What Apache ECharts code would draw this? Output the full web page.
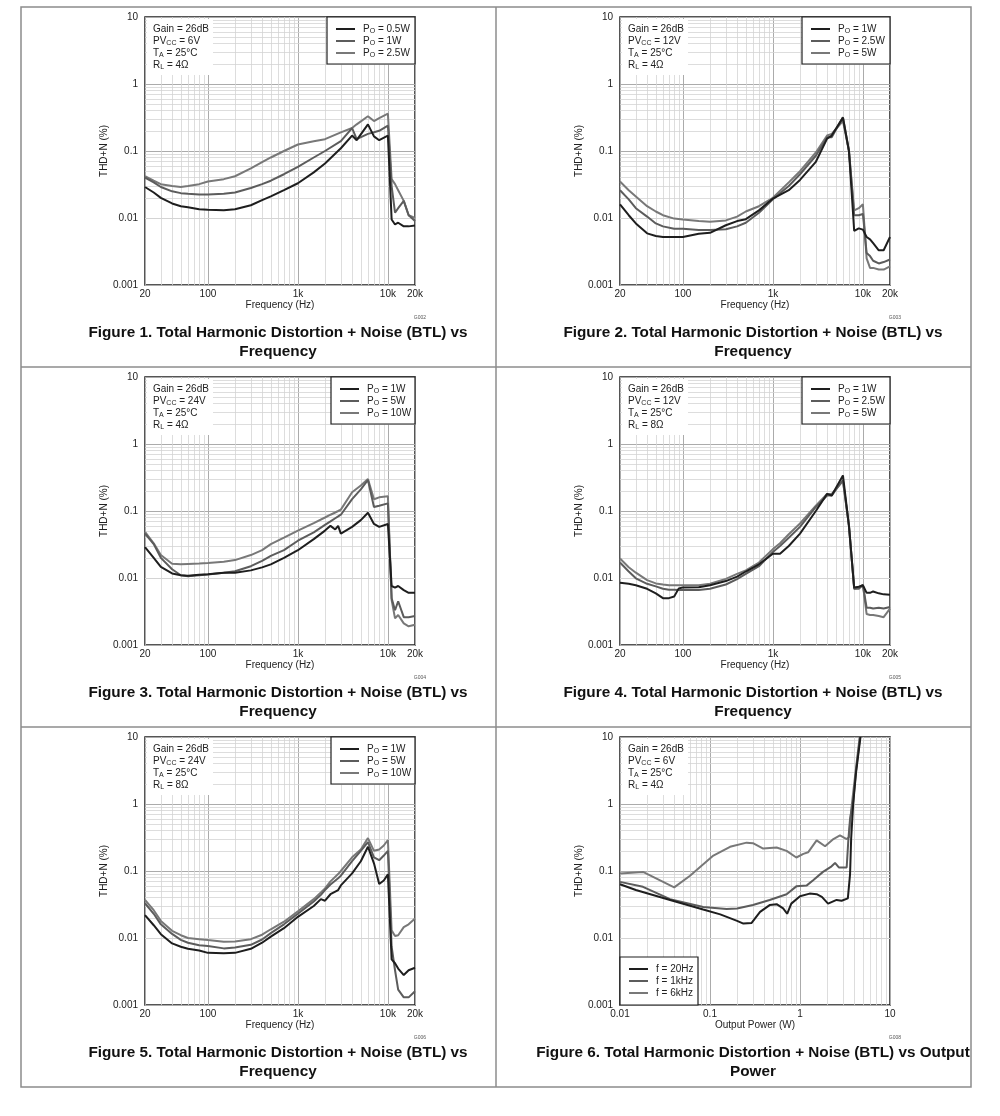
<!DOCTYPE html>
<html><head><meta charset="utf-8">
<script src="https://cdn.jsdelivr.net/npm/echarts@6/dist/echarts.min.js"></script>
<style>html,body{margin:0;padding:0;background:#fff}#c{width:1000px;height:1116px}</style>
</head><body><div id="c"></div>
<script>
// ---------- DATA ----------
// Figure 1: PVcc = 6V, RL = 4 ohm
const freq1 = [20,25,30,40,50,60,80,100,150,200,300,400,500,700,1000,1500,2000,3000,4000,4500,6000,7000,8000,10000,11000,12000,13000,15000,17000,20000];
const fig1_05W = [0.029,0.024,0.020,0.0165,0.015,0.0145,0.0135,0.0133,0.013,0.0135,0.0155,0.0185,0.021,0.026,0.033,0.048,0.065,0.11,0.17,0.145,0.25,0.165,0.145,0.17,0.0095,0.008,0.0085,0.0075,0.0075,0.0077];
const fig1_1W  = [0.040,0.034,0.029,0.025,0.0235,0.023,0.0225,0.0225,0.023,0.024,0.028,0.032,0.036,0.045,0.058,0.08,0.1,0.14,0.22,0.15,0.18,0.19,0.2,0.24,0.03,0.012,0.014,0.018,0.011,0.009];
const fig1_25W = [0.042,0.036,0.032,0.030,0.029,0.030,0.032,0.035,0.038,0.042,0.055,0.068,0.08,0.10,0.125,0.14,0.15,0.19,0.22,0.25,0.33,0.28,0.31,0.36,0.038,0.032,0.026,0.018,0.011,0.010];

// Figure 2: PVcc = 12V, RL = 4 ohm
const freq2 = [20,25,30,40,50,60,80,100,150,200,300,400,500,700,1000,1500,2000,3000,4000,4500,6000,7000,8000,9000,10000,11000,12000,13000,15000,17000,20000];
const fig2_1W  = [0.016,0.011,0.0083,0.0059,0.0054,0.0052,0.0052,0.0052,0.0058,0.006,0.0078,0.009,0.0096,0.013,0.0195,0.026,0.037,0.069,0.153,0.17,0.315,0.1,0.0064,0.007,0.0067,0.0052,0.0048,0.0042,0.0033,0.0033,0.0052];
const fig2_25W = [0.026,0.019,0.014,0.0105,0.0083,0.0075,0.0069,0.0069,0.0066,0.0066,0.0068,0.0075,0.0085,0.012,0.019,0.03,0.045,0.085,0.16,0.16,0.32,0.1,0.011,0.011,0.0115,0.003,0.0027,0.0023,0.0021,0.0022,0.0024];
const fig2_5W  = [0.035,0.026,0.021,0.015,0.0125,0.011,0.0098,0.0095,0.009,0.0088,0.0092,0.0105,0.0125,0.015,0.02,0.034,0.05,0.095,0.17,0.18,0.28,0.1,0.013,0.014,0.016,0.0025,0.0018,0.0018,0.0017,0.0017,0.0019];

// Figure 3: PVcc = 24V, RL = 4 ohm
const freq3 = [20,25,30,40,50,60,80,100,150,200,300,400,500,700,1000,1500,2000,2300,2600,2800,3000,4000,5000,6000,7000,8000,10000,11000,12000,13000,15000,17000,20000];
const fig3_1W  = [0.029,0.02,0.0146,0.0117,0.011,0.0108,0.0112,0.0114,0.012,0.012,0.013,0.0144,0.016,0.02,0.026,0.038,0.051,0.06,0.053,0.06,0.046,0.058,0.073,0.094,0.064,0.058,0.064,0.0076,0.0072,0.0076,0.0066,0.006,0.006];
const fig3_5W  = [0.046,0.032,0.02,0.0135,0.011,0.0106,0.011,0.0113,0.012,0.0126,0.015,0.018,0.0214,0.026,0.036,0.048,0.062,0.07,0.078,0.083,0.088,0.15,0.21,0.29,0.115,0.12,0.13,0.005,0.0033,0.0045,0.0026,0.0026,0.0027];
const fig3_10W = [0.049,0.033,0.022,0.0163,0.016,0.0162,0.0165,0.0168,0.0175,0.0185,0.022,0.026,0.032,0.04,0.051,0.066,0.08,0.088,0.095,0.1,0.105,0.19,0.24,0.3,0.15,0.16,0.166,0.0047,0.0025,0.0028,0.0021,0.0019,0.002];

// Figure 4: PVcc = 12V, RL = 8 ohm
const freq4 = [20,25,30,40,50,60,70,80,90,100,150,200,300,400,500,700,1000,1200,1500,2000,3000,4000,4500,6000,7000,8000,9000,10000,11000,12000,13000,15000,17000,20000];
const fig4_1W  = [0.0085,0.0082,0.0078,0.0069,0.0059,0.005,0.005,0.0053,0.007,0.0072,0.0073,0.0078,0.009,0.0105,0.0125,0.016,0.023,0.023,0.03,0.046,0.1,0.18,0.17,0.34,0.06,0.0072,0.0074,0.0078,0.006,0.006,0.0063,0.0059,0.0057,0.0056];
const fig4_25W = [0.017,0.0125,0.0099,0.0082,0.0075,0.0069,0.0067,0.0067,0.0066,0.0066,0.0066,0.0069,0.008,0.0096,0.0115,0.015,0.0245,0.03,0.04,0.058,0.115,0.17,0.17,0.29,0.06,0.0069,0.0069,0.0078,0.0036,0.0036,0.0035,0.0036,0.0035,0.0037];
const fig4_5W  = [0.0195,0.0145,0.012,0.0093,0.0083,0.008,0.0078,0.0078,0.0078,0.0078,0.0078,0.0082,0.0097,0.0115,0.013,0.017,0.027,0.033,0.045,0.065,0.12,0.18,0.18,0.28,0.06,0.0069,0.0072,0.0079,0.0029,0.0028,0.0028,0.0027,0.0026,0.0035];

// Figure 5: PVcc = 24V, RL = 8 ohm
const freq5 = [20,25,30,40,50,60,80,100,150,200,300,400,500,700,1000,1500,1800,2000,2300,2800,3000,4000,5000,6000,7000,8000,9000,10000,11000,12000,13000,15000,17000,20000];
const fig5_1W  = [0.022,0.0155,0.0114,0.0083,0.0074,0.0069,0.0065,0.006,0.0059,0.006,0.0069,0.0085,0.0105,0.014,0.0207,0.03,0.038,0.036,0.045,0.052,0.061,0.092,0.14,0.23,0.13,0.064,0.072,0.089,0.0048,0.0042,0.0035,0.0028,0.0033,0.0036];
const fig5_5W  = [0.033,0.023,0.016,0.0115,0.0094,0.0085,0.0078,0.0076,0.007,0.0072,0.0079,0.0095,0.0118,0.016,0.023,0.035,0.044,0.052,0.063,0.078,0.085,0.14,0.2,0.27,0.16,0.145,0.17,0.2,0.0074,0.0033,0.0017,0.0013,0.0013,0.0016];
const fig5_10W = [0.037,0.026,0.018,0.0128,0.011,0.01,0.0096,0.0093,0.0088,0.0089,0.0096,0.0112,0.0135,0.0175,0.025,0.038,0.048,0.055,0.07,0.09,0.1,0.16,0.21,0.31,0.2,0.21,0.24,0.29,0.013,0.0107,0.011,0.0145,0.016,0.0195];

// Figure 6: THD+N vs output power
const pow20Hz = [0.01,0.015,0.036,0.084,0.13,0.2,0.235,0.29,0.36,0.46,0.55,0.65,0.72,0.8,1.0,1.28,1.53,1.75,2.05,2.55,2.9,3.4,3.5,3.6,3.7,3.9,4.2,4.7];
const thd20Hz = [0.0635,0.052,0.037,0.0266,0.0225,0.018,0.0164,0.0168,0.0245,0.031,0.032,0.0276,0.023,0.0326,0.042,0.046,0.045,0.041,0.0326,0.037,0.036,0.039,0.04,0.09,0.3,1.0,3,10];
const pow1kHz = [0.01,0.018,0.036,0.084,0.153,0.2,0.3,0.46,0.71,0.91,1.19,1.4,1.8,2.2,2.45,2.7,3.3,3.45,3.6,3.9,4.2,4.65];
const thd1kHz = [0.0688,0.058,0.038,0.029,0.027,0.0275,0.031,0.037,0.045,0.059,0.061,0.073,0.097,0.115,0.132,0.113,0.113,0.3,0.6,1.1,3.2,10];
const pow6kHz = [0.01,0.018,0.04,0.06,0.109,0.167,0.255,0.3,0.39,0.55,0.71,0.91,1.09,1.23,1.53,1.9,2.35,2.78,3.3,3.5,3.7,4.0,4.6];
const thd6kHz = [0.092,0.097,0.057,0.085,0.17,0.23,0.265,0.26,0.216,0.224,0.2,0.159,0.18,0.19,0.287,0.234,0.3,0.34,0.3,0.32,0.8,2,10];

// Tick labels
const yTickValues = [0.001,0.01,0.1,1,10];
const yTickLabels = ['0.001','0.01','0.1','1','10'];
const freqTickValues = [20,100,1000,10000,20000];
const freqTickLabels = ['20','100','1k','10k','20k'];
const powTickValues = [0.01,0.1,1,10];
const powTickLabels = ['0.01','0.1','1','10'];
const minorMultipliers = [2,3,4,5,6,7,8,9];

// ---------- CHART DEFINITIONS ----------
const FONT = '"Liberation Sans", Arial, sans-serif';
const colors = ['#1e1e1e', '#5c5c5c', '#787878'];
const PW = 270, PH = 268;
const charts = [
  {left:145, top:17, kind:'freq', vcc:'6V', rl:'4Ω', code:'G002', caption:['Figure 1. Total Harmonic Distortion + Noise (BTL) vs','Frequency'],
   legend:['P{s|O} = 0.5W','P{s|O} = 1W','P{s|O} = 2.5W'], legendBox:182, x:[freq1,freq1,freq1], y:[fig1_05W,fig1_1W,fig1_25W]},
  {left:620, top:17, kind:'freq', vcc:'12V', rl:'4Ω', code:'G003', caption:['Figure 2. Total Harmonic Distortion + Noise (BTL) vs','Frequency'],
   legend:['P{s|O} = 1W','P{s|O} = 2.5W','P{s|O} = 5W'], legendBox:182, x:[freq2,freq2,freq2], y:[fig2_1W,fig2_25W,fig2_5W]},
  {left:145, top:377, kind:'freq', vcc:'24V', rl:'4Ω', code:'G004', caption:['Figure 3. Total Harmonic Distortion + Noise (BTL) vs','Frequency'],
   legend:['P{s|O} = 1W','P{s|O} = 5W','P{s|O} = 10W'], legendBox:186, x:[freq3,freq3,freq3], y:[fig3_1W,fig3_5W,fig3_10W]},
  {left:620, top:377, kind:'freq', vcc:'12V', rl:'8Ω', code:'G005', caption:['Figure 4. Total Harmonic Distortion + Noise (BTL) vs','Frequency'],
   legend:['P{s|O} = 1W','P{s|O} = 2.5W','P{s|O} = 5W'], legendBox:182, x:[freq4,freq4,freq4], y:[fig4_1W,fig4_25W,fig4_5W]},
  {left:145, top:737, kind:'freq', vcc:'24V', rl:'8Ω', code:'G006', caption:['Figure 5. Total Harmonic Distortion + Noise (BTL) vs','Frequency'],
   legend:['P{s|O} = 1W','P{s|O} = 5W','P{s|O} = 10W'], legendBox:186, x:[freq5,freq5,freq5], y:[fig5_1W,fig5_5W,fig5_10W]},
  {left:620, top:737, kind:'power', vcc:'6V', rl:'4Ω', code:'G008', caption:['Figure 6. Total Harmonic Distortion + Noise (BTL) vs Output','Power'],
   legend:['f = 20Hz','f = 1kHz','f = 6kHz'], legendBox:null, x:[pow20Hz,pow1kHz,pow6kHz], y:[thd20Hz,thd1kHz,thd6kHz]}
];

function minorValues(decades){ const out=[]; decades.forEach(d=>minorMultipliers.forEach(m=>out.push(+(m*d).toPrecision(3)))); return out; }
function labelFrom(values, labels){ return v => { const i = values.findIndex(t => Math.abs(t - v) / t < 1e-6); return i >= 0 ? labels[i] : ''; }; }

const option = {animation:false, grid:[], xAxis:[], yAxis:[], series:[], legend:[], graphic:[]};
const gfx = option.graphic;
const subRich = {s:{fontSize:7, fontFamily:FONT, verticalAlign:'bottom', lineHeight:12, padding:[3,0,0,0]}};

charts.forEach((c, i) => {
  option.grid.push({left:c.left, top:c.top, width:PW, height:PH, show:true, borderColor:'#1e1e1e', borderWidth:1.5, backgroundColor:'rgba(0,0,0,0)', containLabel:false});
  const isF = c.kind === 'freq';
  option.xAxis.push({
    type:'log', logBase:10, gridIndex:i, min:isF?20:0.01, max:isF?20000:10,
    axisLine:{show:false}, axisTick:{show:false},
    splitLine:{show:true, lineStyle:{color:'#ababab', width:1}},
    axisLabel:{fontSize:10, color:'#222', fontFamily:FONT, margin:4, showMinLabel:true, showMaxLabel:true,
      formatter: isF ? labelFrom(freqTickValues, freqTickLabels) : labelFrom(powTickValues, powTickLabels)},
    name: isF ? 'Frequency (Hz)' : 'Output Power (W)', nameLocation:'middle', nameGap:15,
    nameTextStyle:{fontSize:10, color:'#222', fontFamily:FONT}
  });
  option.yAxis.push({
    type:'log', logBase:10, gridIndex:i, min:0.001, max:10,
    axisLine:{show:false}, axisTick:{show:false},
    splitLine:{show:true, lineStyle:{color:'#ababab', width:1}},
    axisLabel:{fontSize:10, color:'#222', fontFamily:FONT, margin:7, showMinLabel:true, showMaxLabel:true,
      formatter: labelFrom(yTickValues, yTickLabels)},
    name:'THD+N (%)', nameLocation:'middle', nameGap:36,
    nameTextStyle:{fontSize:10, color:'#222', fontFamily:FONT}
  });
  const xMinor = isF ? minorValues([10,100,1000]).filter(v => v > 20) : minorValues([0.01,0.1,1]);
  const yMinor = minorValues([0.001,0.01,0.1,1]);
  const names = [];
  [2,1,0].forEach(j => {
    const nm = 'c' + i + 's' + j;
    const s = {
      type:'line', name:nm, xAxisIndex:i, yAxisIndex:i, symbol:'none', showSymbol:false,
      data: c.x[j].map((xv, k) => [xv, c.y[j][k]]),
      lineStyle:{color:colors[j], width:2}, itemStyle:{color:colors[j]}, z:2 + (2 - j) * 0.1
    };
    if (j === 2) {
      s.markLine = {silent:true, symbol:'none', z:1, animation:false, label:{show:false},
        lineStyle:{color:'#d4d4d4', width:0.8, type:'solid'},
        emphasis:{disabled:true},
        data: xMinor.map(v => ({xAxis:v})).concat(yMinor.map(v => ({yAxis:v})))};
    }
    option.series.push(s);
  });
  for (let j = 0; j < 3; j++) names.push('c' + i + 's' + j);
  const labels = {}; names.forEach((n, j) => labels[n] = c.legend[j]);

  // annotation background + text
  gfx.push({type:'rect', z:3, silent:true, shape:{x:c.left+2, y:c.top+2, width:66, height:56}, style:{fill:'#fff'}});
  gfx.push({type:'text', z:6, silent:true, x:c.left+8, y:c.top+6, style:{
    text:'Gain = 26dB\nPV{s|CC} = ' + c.vcc + '\nT{s|A} = 25°C\nR{s|L} = ' + c.rl,
    fontSize:10, fontFamily:FONT, fill:'#222', lineHeight:12, rich:subRich}});

  // legend box + legend
  let lx, ly, bx, by, bw, bh;
  if (c.legendBox !== null) {
    bx = c.left + c.legendBox; by = c.top; bw = PW - c.legendBox; bh = 47;
    lx = bx + 9; ly = c.top + 6;
  } else {
    bx = c.left; by = c.top + PH - 48; bw = 78; bh = 48;
    lx = bx + 9; ly = by + 6;
  }
  gfx.push({type:'rect', z:3, silent:true, shape:{x:bx, y:by, width:bw, height:bh}, style:{fill:'#fff', stroke:'#1e1e1e', lineWidth:1.2}});
  option.legend.push({
    orient:'vertical', left:lx, top:ly, padding:0, itemWidth:19, itemHeight:2, itemGap:0, icon:'rect',
    selectedMode:false, data:names, z:5,
    formatter: n => labels[n],
    textStyle:{fontSize:10, color:'#222', fontFamily:FONT, lineHeight:12, padding:[0,0,0,3], rich:subRich}
  });

  // caption and code
  gfx.push({type:'text', z:6, silent:true, x:c.left + 133, y:c.top + 306, style:{
    text:c.caption.join('\n'), fontSize:15.3, fontWeight:'bold', fontFamily:FONT, fill:'#111', align:'center', verticalAlign:'top', lineHeight:19}});
  gfx.push({type:'text', z:6, silent:true, x:c.left + PW + 11, y:c.top + 301, style:{
    text:c.code, fontSize:5, fontFamily:FONT, fill:'#555', align:'right', verticalAlign:'middle'}});
});

// panel borders
gfx.push({type:'rect', z:0, silent:true, shape:{x:21, y:7, width:950, height:1080}, style:{fill:'none', stroke:'#8c8c8c', lineWidth:1.5}});
gfx.push({type:'line', z:0, silent:true, shape:{x1:496, y1:7, x2:496, y2:1087}, style:{stroke:'#8c8c8c', lineWidth:1.5}});
gfx.push({type:'line', z:0, silent:true, shape:{x1:21, y1:367, x2:971, y2:367}, style:{stroke:'#8c8c8c', lineWidth:1.5}});
gfx.push({type:'line', z:0, silent:true, shape:{x1:21, y1:727, x2:971, y2:727}, style:{stroke:'#8c8c8c', lineWidth:1.5}});

const chart = echarts.init(document.getElementById('c'), null, {renderer:'canvas'});
chart.setOption(option);
</script></body></html>
